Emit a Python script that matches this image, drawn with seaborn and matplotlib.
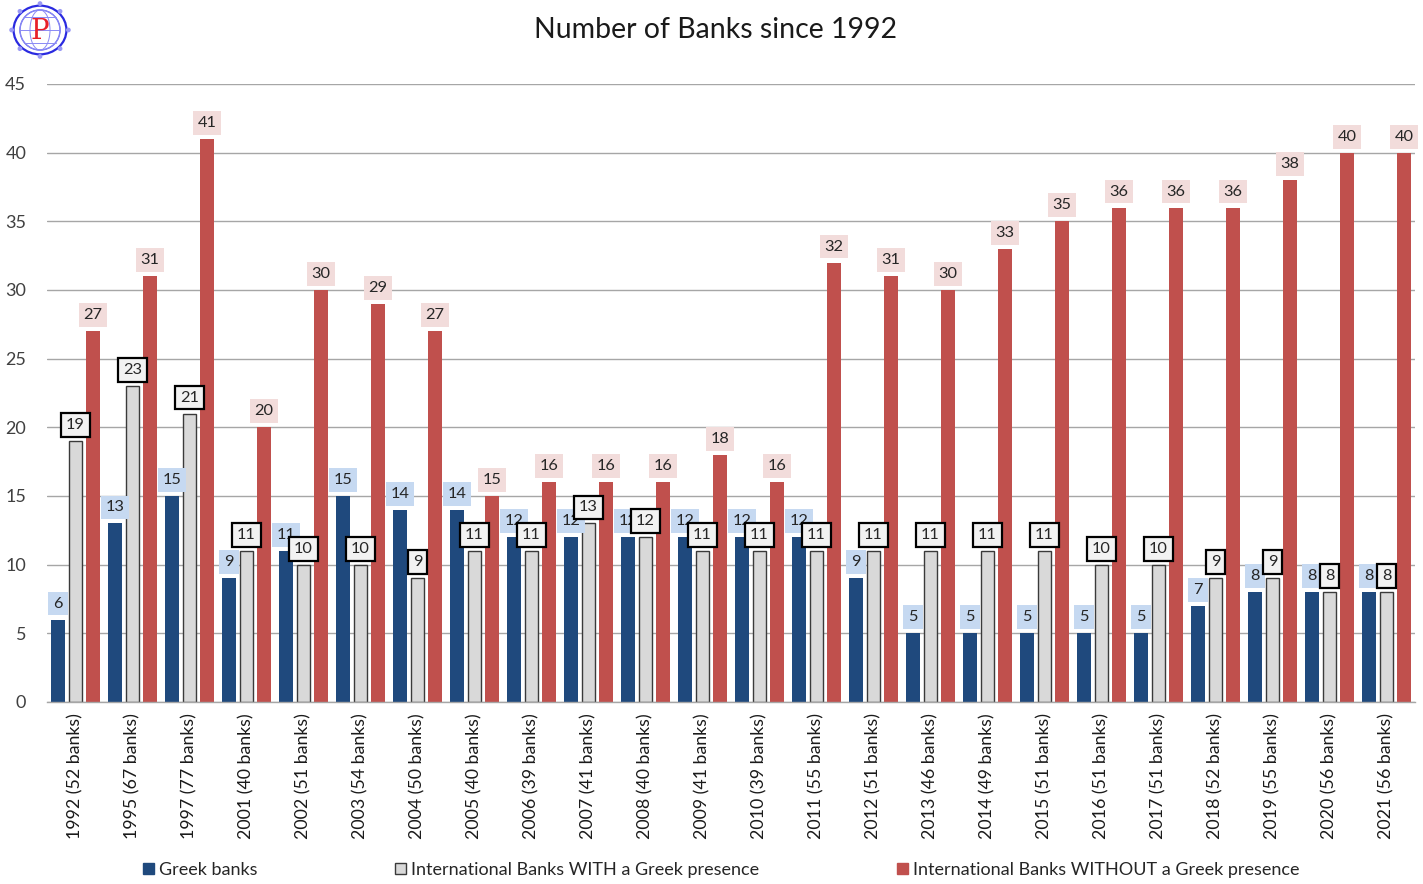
import numpy as np
import pandas as pd
import matplotlib
matplotlib.use("Agg")
import matplotlib.pyplot as plt
from matplotlib.patches import Patch, Circle, Ellipse
import seaborn as sns

categories = ["1992 (52 banks)", "1995 (67 banks)", "1997 (77 banks)", "2001 (40 banks)",
              "2002 (51 banks)", "2003 (54 banks)", "2004 (50 banks)", "2005 (40 banks)",
              "2006 (39 banks)", "2007 (41 banks)", "2008 (40 banks)", "2009 (41 banks)",
              "2010 (39 banks)", "2011 (55 banks)", "2012 (51 banks)", "2013 (46 banks)",
              "2014 (49 banks)", "2015 (51 banks)", "2016 (51 banks)", "2017 (51 banks)",
              "2018 (52 banks)", "2019 (55 banks)", "2020 (56 banks)", "2021 (56 banks)"]
greek = [6, 13, 15, 9, 11, 15, 14, 14, 12, 12, 12, 12, 12, 12, 9, 5, 5, 5, 5, 5, 7, 8, 8, 8]
intl_with = [19, 23, 21, 11, 10, 10, 9, 11, 11, 13, 12, 11, 11, 11, 11, 11, 11, 11, 10, 10, 9, 9, 8, 8]
intl_without = [27, 31, 41, 20, 30, 29, 27, 15, 16, 16, 16, 18, 16, 32, 31, 30, 33, 35, 36, 36, 36, 38, 40, 40]
series_names = ["Greek banks", "International Banks WITH a Greek presence",
                "International Banks WITHOUT a Greek presence"]
title = "Number of Banks since 1992"

colors = ["#1F497D", "#D9D9D9", "#C0504D"]
label_face = ["#C6D9F1", "#F2F2F2", "#F2DCDB"]

df = pd.DataFrame({
    "category": categories * 3,
    "series": sum([[s] * len(categories) for s in series_names], []),
    "value": greek + intl_with + intl_without,
})

sns.set_theme(style="white")
plt.rcParams["font.family"] = ["Lato", "DejaVu Sans"]

fig = plt.figure(figsize=(14.23, 8.84), dpi=100)
ax = fig.add_axes([47 / 1423, 1 - 702 / 884, 1368 / 1423, 618 / 884])

sns.barplot(data=df, x="category", y="value", hue="series", hue_order=series_names,
            order=categories, palette=colors, width=0.92, gap=0.25, ax=ax,
            legend=False, saturation=1, errorbar=None)

for i, cont in enumerate(ax.containers):
    for p in cont.patches:
        if i == 1:
            p.set_edgecolor("#3a3a3a")
            p.set_linewidth(1.0)
        else:
            p.set_edgecolor("none")
        p.set_zorder(2)

z_lab = [4, 6, 5]
for i, cont in enumerate(ax.containers):
    ec = "black" if i == 1 else "none"
    lw = 1.6 if i == 1 else 0
    anns = ax.bar_label(cont, padding=6.5, fontsize=11.8, color="#262626",
                        bbox=dict(boxstyle="square,pad=0.3", fc=label_face[i], ec=ec, lw=lw))
    for a in anns:
        a.set_zorder(z_lab[i])

ax.set_xlim(-0.5, len(categories) - 0.5)
ax.set_ylim(0, 45)
ax.set_yticks(np.arange(0, 46, 5))
ax.yaxis.grid(True, color="#A6A6A6", linewidth=1.0)
ax.set_axisbelow(True)
for s in ["top", "right", "left"]:
    ax.spines[s].set_visible(False)
ax.spines["bottom"].set_color("#A6A6A6")
ax.spines["bottom"].set_linewidth(1.0)
ax.set_xlabel("")
ax.set_ylabel("")
ax.tick_params(axis="y", labelsize=13, labelcolor="#404040", length=0, pad=15)
ax.tick_params(axis="x", labelsize=12.8, labelcolor="#1a1a1a", length=0, pad=8)
plt.setp(ax.get_xticklabels(), rotation=90, va="top", ha="center")

fig.text(716 / 1423, 1 - 30 / 884, title, ha="center", va="center", fontsize=20.5, color="#1a1a1a")

# legends
leg_x = [143, 395, 897]
for i, name in enumerate(series_names):
    h = Patch(facecolor=colors[i], edgecolor="#3a3a3a" if i == 1 else colors[i], lw=1.0)
    lg = fig.legend(handles=[h], labels=[name], loc="center left",
                    bbox_to_anchor=(leg_x[i] / 1423, 1 - 870 / 884), frameon=False,
                    fontsize=13, handlelength=0.6, handleheight=0.6, handletextpad=0.3,
                    borderpad=0, borderaxespad=0, labelcolor="#262626")

# logo
lax = fig.add_axes([8 / 1423, 1 - 62 / 884, 64 / 1423, 64 / 884])
lax.set_xlim(-1.15, 1.15)
lax.set_ylim(-1.15, 1.15)
lax.set_aspect("equal")
lax.axis("off")
lax.add_patch(Ellipse((0, 0), 1.9, 1.75, fill=False, ec="#2a2ae0", lw=1.6))
lax.add_patch(Circle((0, 0), 0.72, fill=False, ec="#6a6af0", lw=1.0))
for w in [0.5, 1.0]:
    lax.add_patch(Ellipse((0, 0), 1.44 * w, 1.44, fill=False, ec="#8a8af5", lw=0.7))
for yy in [-0.45, 0, 0.45]:
    hw = np.sqrt(0.72 ** 2 - yy ** 2)
    lax.plot([-hw, hw], [yy, yy], color="#8a8af5", lw=0.7)
for ang in np.arange(0, 360, 45):
    r = np.deg2rad(ang)
    lax.add_patch(Circle((1.02 * np.cos(r), 0.95 * np.sin(r)), 0.06, color="#9a9af5"))
lax.text(0, -0.05, "P", ha="center", va="center", fontsize=20, color="#e8202a",
         family="DejaVu Serif")

fig.savefig("out.png", dpi=100)
